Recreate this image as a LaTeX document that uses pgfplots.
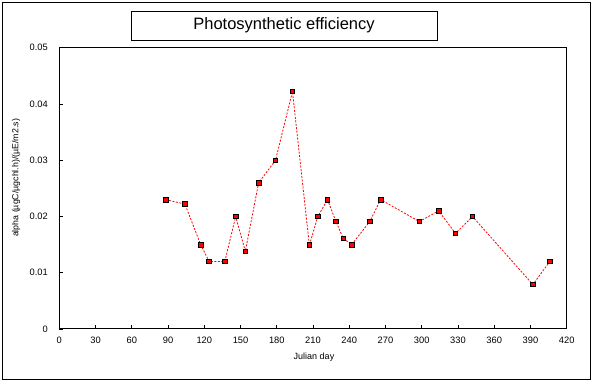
\documentclass[border=0pt]{standalone}
\usepackage{pgfplots}
\pgfplotsset{compat=1.18}
\usepackage{fontspec}
\setmainfont{Liberation Sans}
\begin{document}
\begin{tikzpicture}[x=1pt,y=1pt]
\useasboundingbox (0,0) rectangle (593,382);
\draw[line width=1pt] (2,3) rectangle (590,379);
\draw[line width=0.9pt] (131,342) rectangle (437,371);
\node[font=\fontsize{16.5}{18}\selectfont] at (284,356.5) {Photosynthetic efficiency};
\node[rotate=90,font=\fontsize{8.8}{10}\selectfont] at (16,204) {alpha (µgC/µgchl.h)/(µE/m2.s)};
\node[font=\fontsize{9}{10}\selectfont] at (314,25) {Julian day};
\begin{axis}[
  at={(59.3pt,53pt)}, anchor=south west,
  scale only axis, width=507.4pt, height=281.3pt,
  xmin=0, xmax=420, ymin=0, ymax=0.05,
  xtick={0,30,60,90,120,150,180,210,240,270,300,330,360,390,420},
  xticklabels={0,30,60,90,120,150,180,210,240,270,300,330,360,390,420},
  ytick={0,0.01,0.02,0.03,0.04,0.05},
  yticklabels={0,0.01,0.02,0.03,0.04,0.05},
  scaled y ticks=false,
  tick align=inside, xtick pos=bottom, ytick pos=left,
  major tick length=4pt,
  tick style={black, line width=0.8pt},
  axis line style={line width=1pt},
  ticklabel style={font=\fontsize{9.3}{10}\selectfont},
  xticklabel style={yshift=-4pt},
  yticklabel style={xshift=-8pt},
  clip=false,
]
\addplot[red, line width=0.8pt, dash pattern=on 2pt off 1.5pt,
  mark=square*, mark size=2.3pt,
  mark options={solid, fill=red, draw=black, line width=0.8pt}]
  table {
88 0.0230
104 0.0222
117 0.0150
124 0.0120
137 0.0120
146 0.0200
154 0.0138
165 0.0260
179 0.0300
193 0.0422
207 0.0149
214 0.0200
222 0.0230
229 0.0191
235 0.0161
242 0.0150
257 0.0191
266 0.0230
298 0.0191
314 0.0210
328 0.0170
342 0.0200
392 0.0079
406 0.0120
};
\end{axis}
\end{tikzpicture}
\end{document}
